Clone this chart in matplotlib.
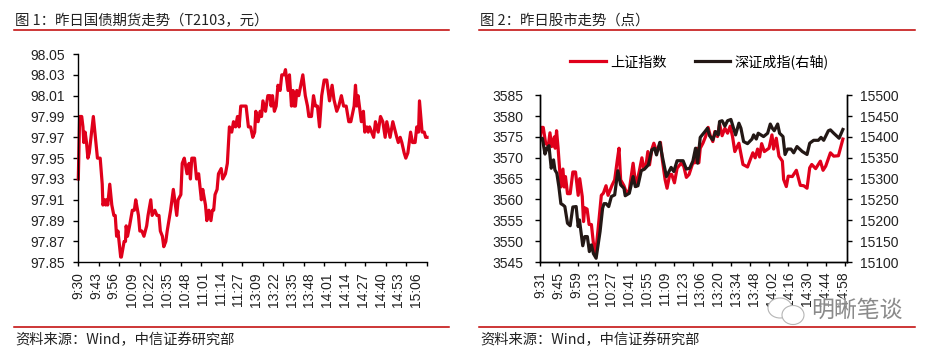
import matplotlib
matplotlib.use("Agg")
import matplotlib.pyplot as plt
from matplotlib.patches import Ellipse

W, H = 933, 351
FONT = ['Liberation Sans', 'Noto Sans CJK SC']
CJK = ['Noto Sans CJK SC', 'Liberation Sans']
RED = '#E0001B'
BLACK = '#231815'
RULE = '#C00000'

# chart 1: T2103 (bar index, price)
bond_x = [0, 1, 2.5, 3.4, 4, 5, 6, 7, 8, 9.3, 11, 12.5, 14, 16, 17.5, 18, 19.5, 20, 21, 21.5, 23, 24.5, 26, 27, 28, 29,
          31, 31.5, 33.5, 34.5, 35, 36, 37.5, 39.5, 41, 42, 44, 45, 46.5, 48, 50, 51, 53, 54, 56, 57.5, 59, 60, 61.5,
          62.5, 64, 65, 67.5, 69.5, 71, 72, 73, 75, 76, 77.5, 79.5, 81, 82, 83, 85, 86.5, 88, 90, 91, 93, 94, 95.5,
          97, 98, 99, 100, 101.5, 102.5, 104.5, 105.6, 107.6, 109, 110.5, 112.2, 113.5, 115, 116.4, 117.6, 118.8,
          122.7, 124.4, 126, 127.6, 129, 129.8, 131.5, 133, 134, 135, 136.9, 138.6, 140.3, 141, 142, 143.4, 144.7,
          146, 147.6, 148.8, 150.5, 151.5, 153.4, 154.4, 155.9, 157, 157.8, 158.8, 159.8, 161.2, 164.2, 166, 167.6,
          168.6, 170.5, 172, 173.4, 174.9, 176.4, 178, 179.8, 181.7, 183.7, 185.6, 187, 189, 190.5, 192.4, 194,
          195.9, 197.8, 199.3, 201.7, 202.7, 203.7, 204.6, 206, 207, 208.5, 209.5, 211, 212, 213, 216, 217.3, 219.3,
          221, 222.7, 224.4, 225.6, 228, 230, 232.9, 234, 235.4, 236.6, 238.3, 239.5, 241, 243, 244.4, 246.3, 247.5,
          248.8, 249.5, 251.4, 253, 254, 255]
bond_y = [97.93, 97.99, 97.99, 97.98, 97.965, 97.975, 97.965, 97.95, 97.955, 97.97, 97.99, 97.97, 97.95, 97.95, 97.925,
          97.905, 97.91, 97.905, 97.91, 97.905, 97.925, 97.905, 97.895, 97.895, 97.875, 97.88, 97.855, 97.855, 97.87,
          97.87, 97.885, 97.875, 97.885, 97.90, 97.90, 97.91, 97.895, 97.88, 97.88, 97.875, 97.885, 97.895, 97.91,
          97.895, 97.90, 97.895, 97.895, 97.88, 97.875, 97.865, 97.87, 97.88, 97.90, 97.92, 97.905, 97.895, 97.91,
          97.915, 97.945, 97.95, 97.935, 97.945, 97.93, 97.95, 97.95, 97.93, 97.935, 97.91, 97.92, 97.905, 97.89,
          97.90, 97.89, 97.90, 97.90, 97.915, 97.92, 97.935, 97.94, 97.93, 97.935, 97.945, 97.98, 97.975, 97.985,
          97.98, 97.99, 97.98, 98.00, 98.00, 97.98, 97.98, 97.97, 97.975, 97.995, 97.985, 97.995, 97.99, 98.005,
          97.995, 98.01, 98.01, 98.00, 98.01, 97.995, 98.00, 98.02, 98.015, 98.03, 98.03, 98.035, 98.015, 98.03,
          98.00, 98.015, 98.00, 98.00, 98.015, 98.01, 98.03, 98.01, 98.00, 97.99, 97.99, 98.01, 98.00, 98.00, 97.98,
          98.01, 98.025, 98.025, 98.005, 98.02, 98.006, 97.995, 98.00, 98.01, 98.00, 98.00, 97.985, 97.985, 98.00,
          98.02, 98.00, 98.01, 97.995, 97.985, 97.995, 97.975, 97.98, 97.975, 97.98, 97.97, 97.985, 97.975, 97.99,
          97.985, 97.97, 97.985, 97.97, 97.985, 97.97, 97.965, 97.97, 97.965, 97.955, 97.95, 97.955, 97.975, 97.965,
          97.965, 97.98, 97.975, 98.005, 97.975, 97.975, 97.97, 97.97]
bond_ticks = ['98.05', '98.03', '98.01', '97.99', '97.97', '97.95', '97.93', '97.91', '97.89', '97.87', '97.85']
bond_times = ['9:30', '9:43', '9:56', '10:09', '10:22', '10:35', '10:48', '11:01', '11:14', '11:27',
              '13:09', '13:22', '13:35', '13:48', '14:01', '14:14', '14:27', '14:40', '14:53', '15:06']

# chart 2: SSE on the left axis, SZSE on the right axis
sh_x = [0, 1, 2.3, 4.2, 6.3, 7.6, 8.9, 11, 11.7, 12.8, 14, 16.2, 17.8, 18.8, 19.8, 21.4, 23.5, 25.6, 27.7, 29.8, 31, 33,
        34, 35, 36.8, 38.4, 40.2, 42.3, 43.6, 45.4, 48, 49.6, 51.7, 53.3, 56.4, 58.5, 60.6, 61.9, 63.2, 65.8, 67.9,
        70, 73, 75.2, 77.8, 79.9, 81.5, 83, 84.6, 85.9, 87.7, 89.3, 90.9, 92.4, 94.5, 96, 98.2, 99.7, 101.8, 103.4,
        105.5, 107.6, 110.7, 112.8, 114.9, 117, 120, 121.6, 123.2, 124.7, 125.8, 127.9, 130, 132, 133.7, 135.7,
        137.3, 139.4, 141, 143, 145.2, 147.3, 149.4, 151.2, 153, 156.2, 159.4, 163, 165.2, 167.2, 169, 170.9, 172.5,
        174.1, 176.2, 179.9, 182.2, 183.5, 185.6, 187.7, 190.4, 191.4, 193.5, 195, 198.2, 201.4, 204.5, 207.2,
        209.8, 211.9, 213.5, 216.6, 220.3, 222.4, 224.5, 228.2, 230.8, 234.5, 238]
sh_y = [3575, 3577.3, 3577.3, 3573.5, 3572.9, 3576, 3572.7, 3575, 3572.3, 3576.5, 3572.3, 3563, 3567.3, 3563, 3565.5,
        3561.4, 3561.4, 3566.6, 3566.6, 3561, 3565, 3560.7, 3554.7, 3558, 3557.7, 3554, 3554, 3548, 3547.2, 3552.7,
        3561, 3561.5, 3563.3, 3561, 3563.4, 3564.7, 3569.5, 3572.3, 3564.7, 3563.3, 3561.5, 3562.3, 3568.7, 3563.1,
        3566.7, 3570, 3567.3, 3568, 3571.5, 3568.3, 3572, 3573.5, 3572, 3572, 3573.7, 3569.5, 3564.7, 3562.7, 3566,
        3566, 3564, 3567.5, 3568.7, 3568, 3565.3, 3566, 3568.8, 3568.8, 3572.3, 3568.8, 3572.3, 3573.5, 3575.1,
        3577.3, 3575.3, 3573.9, 3576.3, 3575.1, 3578.1, 3575.3, 3577.1, 3575.9, 3577.6, 3575.1, 3571.5, 3573.5,
        3568.4, 3567.8, 3569.6, 3571.2, 3570, 3572.1, 3570.2, 3573.4, 3571.5, 3572.3, 3575.5, 3572.1, 3574.7, 3570.4,
        3569.2, 3564.8, 3563.1, 3565.6, 3565.5, 3567, 3563.4, 3563.3, 3562.7, 3567.6, 3568.4, 3567.4, 3569.2, 3567,
        3568, 3571.2, 3570.4, 3570.5, 3574.5]
sz_x = [0, 1.6, 3.7, 5.2, 6.8, 8.6, 10.4, 11.5, 13, 14.6, 16.2, 17.8, 19.3, 21.4, 23.5, 25.6, 28.2, 29.8, 30.8, 33.4, 35,
        37, 38.6, 40.2, 41.8, 43.9, 47, 49, 50.1, 51.7, 53.8, 55.9, 58.5, 61, 63.2, 65.8, 66.8, 70, 73, 74.7, 76.8,
        79.4, 82, 85, 87.7, 89.8, 91.4, 94, 96, 99.2, 102.9, 105, 107.6, 112.3, 114.9, 117.5, 120, 122.1, 123.7,
        125.8, 129.5, 131.5, 133.1, 135.7, 137.9, 140, 141, 143, 145.2, 147.3, 149.9, 152, 153.6, 156.2, 157.8,
        159.9, 163, 166.5, 167.8, 169.9, 171.4, 173.5, 175.6, 178.8, 180.9, 182.5, 184, 186.7, 188.2, 190.9, 192.5,
        194.5, 197.2, 199.3, 201.9, 206.1, 209.8, 211.9, 215, 218.7, 220.8, 222.9, 226.6, 228.2, 230.8, 235, 238]
sz_y = [15393, 15397, 15359, 15373, 15379, 15325, 15345, 15321, 15313, 15281, 15240, 15237, 15233, 15193, 15187, 15232,
        15233, 15185, 15201, 15139, 15161, 15161, 15125, 15141, 15120, 15109, 15173, 15229, 15240, 15240, 15233,
        15257, 15261, 15319, 15285, 15277, 15259, 15265, 15305, 15281, 15283, 15319, 15323, 15333, 15369, 15373,
        15357, 15387, 15353, 15305, 15327, 15317, 15343, 15343, 15323, 15325, 15342, 15373, 15337, 15399, 15413,
        15421, 15403, 15393, 15413, 15405, 15437, 15439, 15426, 15439, 15442, 15421, 15405, 15433, 15421, 15389,
        15384, 15395, 15405, 15395, 15409, 15405, 15401, 15409, 15431, 15421, 15415, 15431, 15409, 15401, 15358,
        15371, 15371, 15362, 15377, 15365, 15358, 15385, 15392, 15392, 15399, 15392, 15415, 15417, 15409, 15397, 15418]
sh_ticks = [3585, 3580, 3575, 3570, 3565, 3560, 3555, 3550, 3545]
sz_ticks = [15500, 15450, 15400, 15350, 15300, 15250, 15200, 15150, 15100]
stock_times = ['9:31', '9:45', '9:59', '10:13', '10:27', '10:41', '10:55', '11:09', '11:23', '13:06',
               '13:20', '13:34', '13:48', '14:02', '14:16', '14:30', '14:44', '14:58']

plt.rcParams['font.family'] = FONT
plt.rcParams['font.size'] = 10


def px_axes(fig, left, top, right, bottom):
    return fig.add_axes([left / W, 1 - bottom / H, (right - left) / W, (bottom - top) / H])


def rule(fig, x0, x1, y):
    fig.add_artist(plt.Line2D([x0 / W, x1 / W], [1 - y / H] * 2, color=RULE, lw=1.1))


def set_times(ax, tick_step, label_step, labels, xmax):
    # ticks and labels are on different steps in the original
    ax.xaxis.remove_overlapping_locs = False
    ticks = list(range(0, xmax + 1, tick_step))
    ax.set_xticks(ticks, labels=[''] * len(ticks))
    ax.set_xticks([i * label_step for i in range(len(labels))], labels=labels, minor=True)
    ax.tick_params(axis='x', which='major', length=3.2, width=1, direction='out')
    ax.tick_params(axis='x', which='minor', length=0, pad=7, labelrotation=90, labelsize=10, labelcolor='#222222')
    ax.set_xlim(0, xmax)


fig = plt.figure(figsize=(W / 100, H / 100), dpi=100)

ax1 = px_axes(fig, 78.3, 54, 427, 262.3)
ax1.plot(bond_x, bond_y, color=RED, lw=2.3, clip_on=False)
ax1.set_ylim(97.85, 98.05)
ax1.set_yticks([float(t) for t in bond_ticks], labels=bond_ticks)
ax1.tick_params(axis='y', length=3.6, width=1, pad=5.8, labelsize=10, labelcolor='#222222')
set_times(ax1, 15, 13, bond_times, 255)
ax1.spines[['top', 'right']].set_visible(False)

ax2 = px_axes(fig, 540.3, 95.3, 846.7, 262)
line_sh, = ax2.plot(sh_x, sh_y, color=RED, lw=2.3, label='上证指数')
ax2.set_ylim(3545, 3585)
ax2.set_yticks(sh_ticks)
ax2.tick_params(axis='y', length=3.6, width=1, pad=8.6, labelsize=10, labelcolor='#222222')
set_times(ax2, 15, 14, stock_times, 241)
ax2.spines['top'].set_visible(False)

ax3 = ax2.twinx()
line_sz, = ax3.plot(sz_x, sz_y, color=BLACK, lw=2.3, label='深证成指(右轴)')
ax3.set_ylim(15100, 15500)
ax3.set_yticks(sz_ticks)
ax3.tick_params(axis='y', length=3.6, width=1, pad=6, labelsize=10, labelcolor='#222222')
ax3.spines['top'].set_visible(False)

for a in (ax1, ax2, ax3):
    for s in a.spines.values():
        s.set_linewidth(1)

fig.legend(handles=[line_sh, line_sz], ncol=2, frameon=False, loc='center',
           bbox_to_anchor=(699.5 / W, 1 - 62 / H), prop={'family': CJK, 'size': 10.2},
           handlelength=2.5, handletextpad=0.3, columnspacing=2.0, borderpad=0, borderaxespad=0)

# panel titles, rules and source lines
fig.text(15 / W, 1 - 21 / H, '图 1：昨日国债期货走势（T2103，元）', family=CJK, fontsize=10.4,
         color='#222222', va='center')
fig.text(480 / W, 1 - 21 / H, '图 2：昨日股市走势（点）', family=CJK, fontsize=10.4, color='#222222', va='center')
fig.text(15 / W, 1 - 340 / H, '资料来源：Wind，中信证券研究部', family=CJK, fontsize=10.3,
         color='#222222', va='center')
fig.text(480 / W, 1 - 340 / H, '资料来源：Wind，中信证券研究部', family=CJK, fontsize=10.3,
         color='#222222', va='center')
rule(fig, 14, 449, 30)
rule(fig, 479, 915, 30)
rule(fig, 14, 449, 327)
rule(fig, 479, 915, 327)

# watermark
fig.text(857 / W, 1 - 310 / H, '明晰笔谈', family=CJK, fontsize=16.5, color='#8a8a8a',
         ha='center', va='center', zorder=10,
         bbox=dict(facecolor='white', edgecolor='none', alpha=0.55, pad=0.5))
for cx, cy, w, h in [(780, 308, 24, 20), (793, 315, 22, 19)]:
    fig.add_artist(Ellipse((cx / W, 1 - cy / H), w / W, h / H, facecolor='white', edgecolor='#b5b5b5', lw=0.8, zorder=9))

fig.savefig('out.png', dpi=100)
